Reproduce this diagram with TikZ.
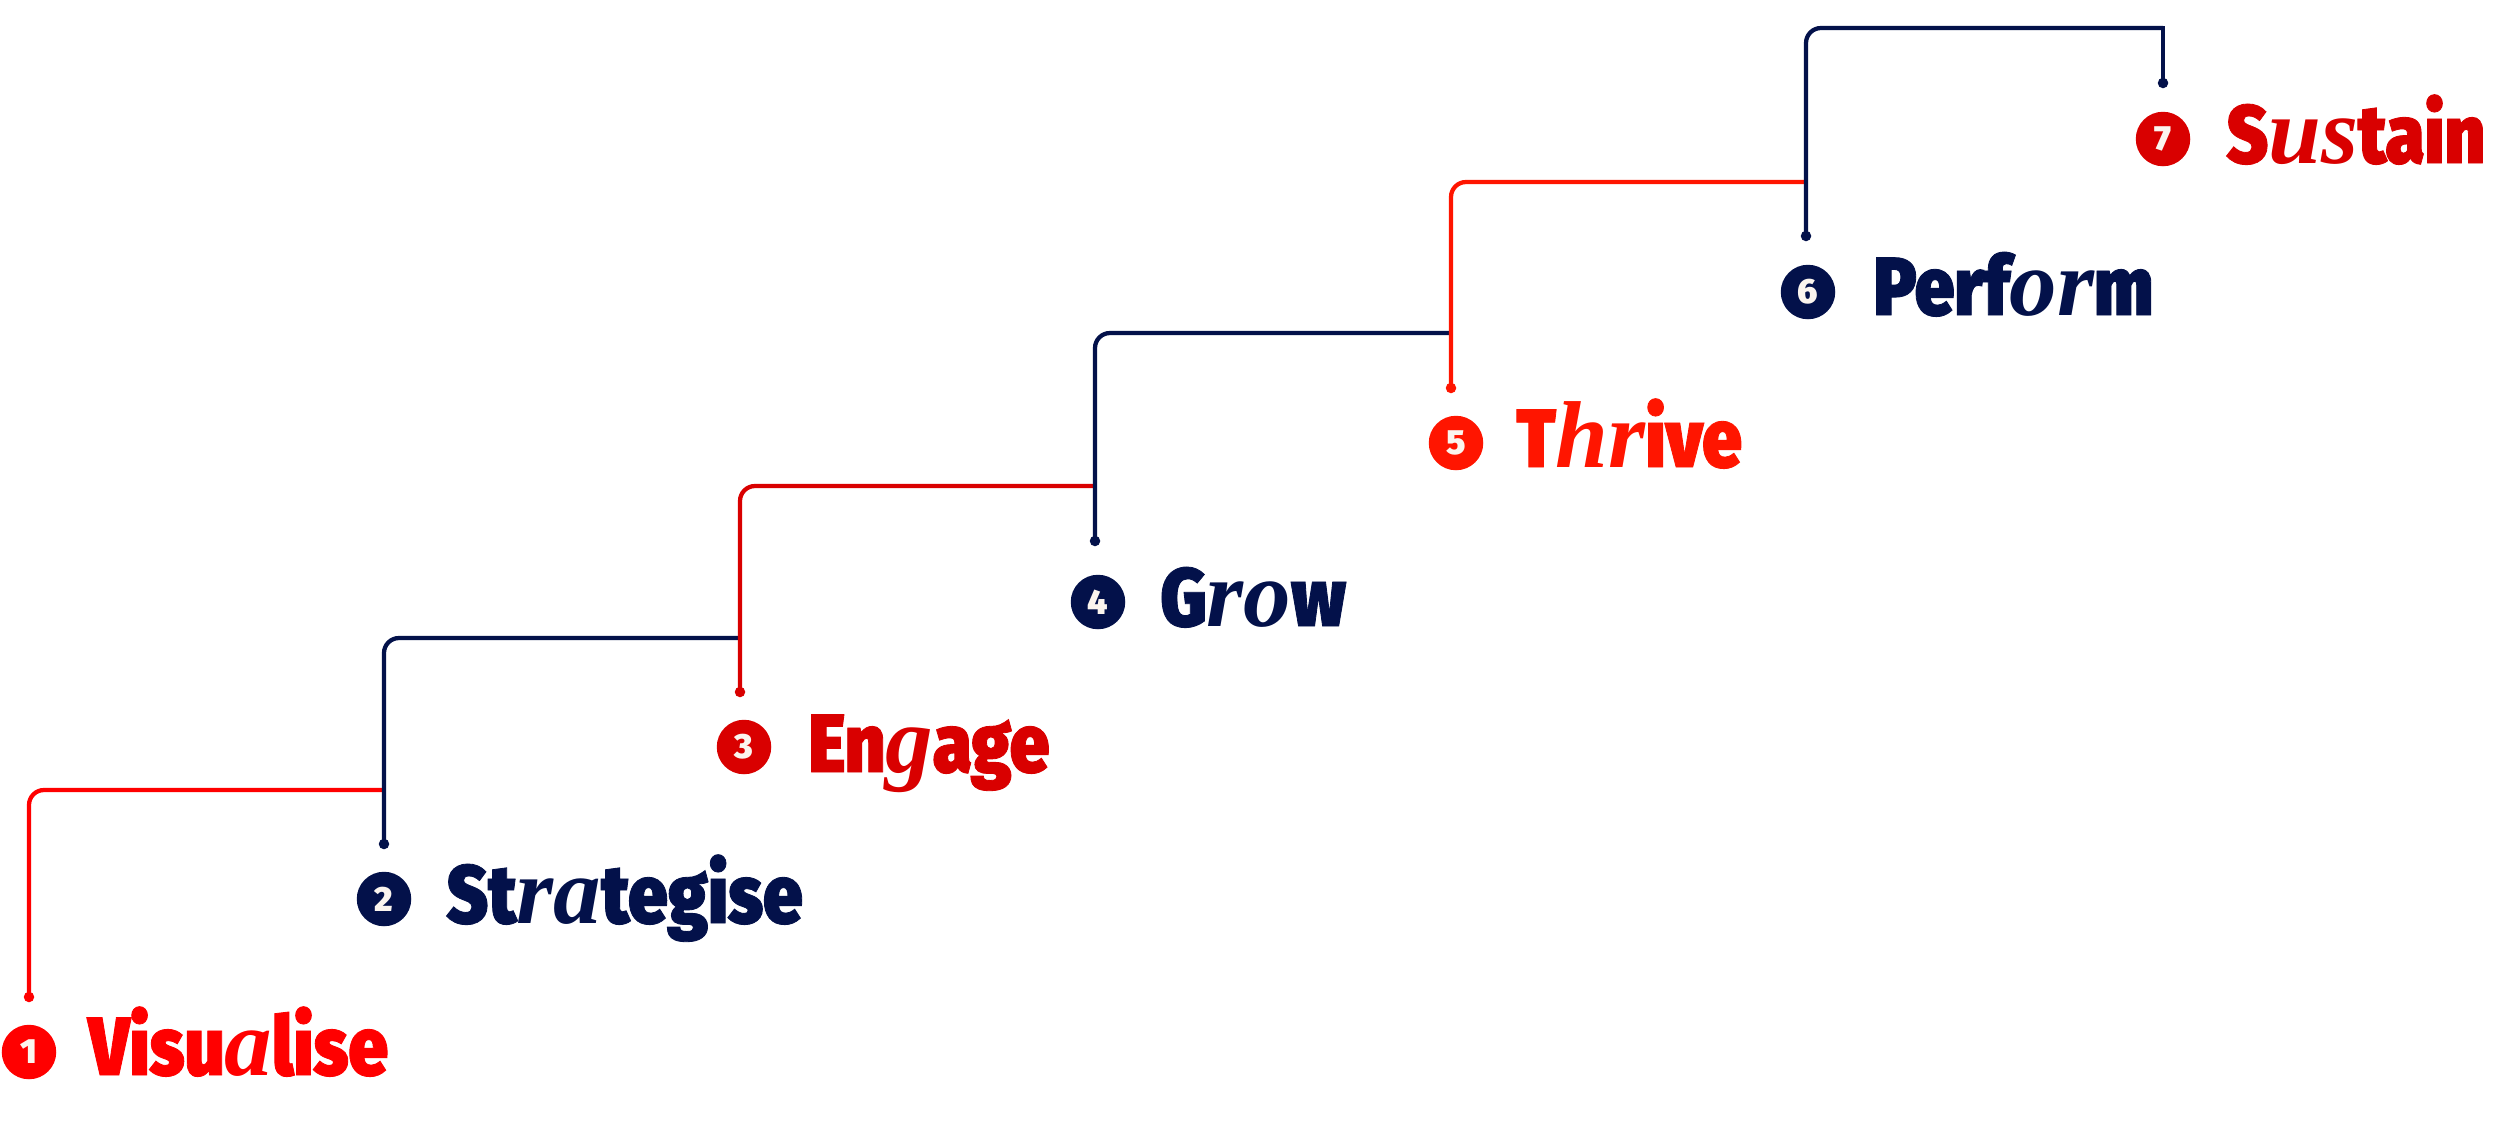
\documentclass[tikz,border=0pt]{standalone}
\usepackage{fontspec}
\newfontfamily\headfont{Fira Sans Black}[FakeStretch=0.86, FakeBold=1]
\newfontfamily\numfont{Fira Sans Black}
\newfontfamily\serifit{Liberation Serif}
\definecolor{rA}{HTML}{FF0000}
\definecolor{rB}{HTML}{D90000}
\definecolor{rC}{HTML}{FF1500}
\definecolor{navy}{HTML}{03114A}
\definecolor{cream}{HTML}{FBF5EE}
\newcommand\ital[1]{{\serifit\bfseries\itshape\fontsize{38}{38}\selectfont #1}}
\tikzset{
  num/.style={circle, fill=#1, minimum size=21.8pt, inner sep=0pt, text=cream,
    font=\numfont\fontsize{14}{14}\selectfont},
  lab/.style={anchor=base west, inner sep=0pt, text=#1,
    font=\headfont\fontsize{33}{33}\selectfont},
  dotnode/.style={circle, fill=#1, minimum size=4.2pt, inner sep=0pt},
  ln/.style={draw=#1, line width=1.7pt, rounded corners=6pt},
}
\begin{document}
\begin{tikzpicture}[x=0.4pt,y=-0.4pt]
\useasboundingbox (0,0) rectangle (2500,1129);
% numbered circles
\node[num=rA]   (c1) at (29,1052) {1};
\node[num=navy] (c2) at (384,899) {2};
\node[num=rB]   (c3) at (744,747) {3};
\node[num=navy] (c4) at (1098,602) {4};
\node[num=rC]   (c5) at (1456,443) {5};
\node[num=navy] (c6) at (1808,292) {6};
\node[num=rB]   (c7) at (2163,139) {7};
% labels
\node[lab=rA]   (t1) at (88,1075) {Visu\ital{a}lise};
\node[lab=navy] (t2) at (446,923) {St\ital{ra}tegise};
\node[lab=rB]   (t3) at (808,772) {En\ital{g}age};
\node[lab=navy] (t4) at (1160,626) {G\ital{ro}w};
\node[lab=rC]   (t5) at (1516,467) {T\ital{hr}ive};
\node[lab=navy] (t6) at (1873,315) {Perf\ital{or}m};
\node[lab=rB]   (t7) at (2226,163) {S\ital{us}tain};
% dots
\node[dotnode=rA]   (d1) at (29,997) {};
\node[dotnode=navy] (d2) at (384,844) {};
\node[dotnode=rB]   (d3) at (740,692) {};
\node[dotnode=navy] (d4) at (1095,541) {};
\node[dotnode=rC]   (d5) at (1451,388) {};
\node[dotnode=navy] (d6) at (1806,236) {};
\node[dotnode=navy] (d7) at (2163,83) {};
% corners
\coordinate (k1) at (29,790);
\coordinate (k2) at (384,638);
\coordinate (k3) at (740,486);
\coordinate (k4) at (1095,333);
\coordinate (k5) at (1451,182);
\coordinate (k6) at (1806,28);
% connectors
\draw[ln=rA]   (d1.center) -- (k1) -- (d2 |- k1);
\draw[ln=navy] (d2.center) -- (k2) -- (d3 |- k2);
\draw[ln=rB]   (d3.center) -- (k3) -- (d4 |- k3);
\draw[ln=navy] (d4.center) -- (k4) -- (d5 |- k4);
\draw[ln=rC]   (d5.center) -- (k5) -- (d6 |- k5);
\draw[ln=navy] (d6.center) -- (k6) -- (d7 |- k6);
\draw[draw=navy, line width=1.7pt, line cap=rect] (d7 |- k6) -- (d7.center);
\end{tikzpicture}
\end{document}
